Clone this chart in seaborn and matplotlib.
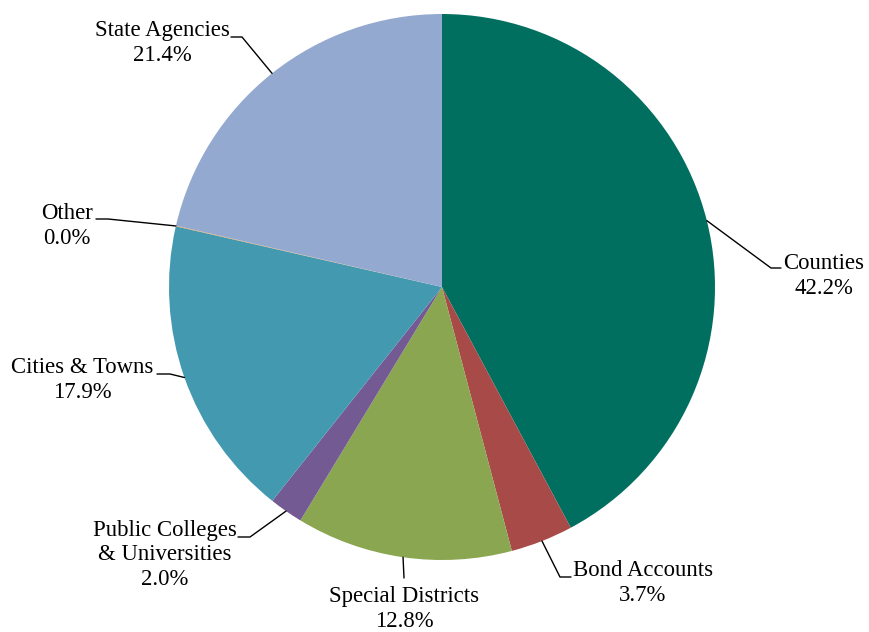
import matplotlib
matplotlib.use("Agg")
import matplotlib.pyplot as plt
import numpy as np
import seaborn as sns

# wedge data, clockwise from 12 o'clock
categories = ["Counties", "Bond Accounts", "Special Districts",
              "Public Colleges\n& Universities", "Cities & Towns", "Other", "State Agencies"]
shares = [42.2, 3.7, 12.8, 2.0, 17.9, 0.04, 21.4]
colors = ["#006F5F", "#A84A47", "#8BA650", "#735A92", "#4399B0", "#E8A050", "#94A9D0"]

sns.set_theme(style="white")
plt.rcParams["font.family"] = ["Liberation Serif", "DejaVu Serif"]

W, H = 870, 632
CX, CY, R = 442, 287, 273

fig = plt.figure(figsize=(W / 100, H / 100), dpi=100)
ax = fig.add_axes([0, 0, 1, 1])
wedges, _ = ax.pie(shares, colors=colors, startangle=90, counterclock=False,
                   radius=1, center=(0, 0), wedgeprops=dict(linewidth=0))
ax.set_xlim(-CX / R, (W - CX) / R)
ax.set_ylim(-(H - CY) / R, CY / R)
ax.set_aspect("equal")
ax.axis("off")


def px(x, y):
    # pixel position (from top-left) -> data coords
    return (x - CX) / R, (CY - y) / R


# label layout in pixels: elbow, line end, text centre
layout = [
    ((771, 268), (781, 268), (824, 276)),
    ((560, 577), (571, 577), (643, 583)),
    ((404, 578), (404, 578), (404, 609)),
    ((250, 537), (238, 537), (165, 555)),
    ((170, 374), (157, 374), (82, 380)),
    ((108, 219), (96, 219), (67, 226)),
    ((242, 37), (231, 37), (162, 43)),
]

for w, name, val, (elb, end, txt) in zip(wedges, categories, shares, layout):
    mid = np.deg2rad((w.theta1 + w.theta2) / 2)
    ax0, ay0 = np.cos(mid), np.sin(mid)
    e1, e2 = px(*elb), px(*end)
    ax.plot([ax0, e1[0], e2[0]], [ay0, e1[1], e2[1]], color="black", lw=1.0,
            solid_joinstyle="miter")
    tx, ty = px(*txt)
    ax.text(tx, ty, f"{name}\n{val:.1f}%", ha="center", va="center",
            multialignment="center", fontsize=16.4, linespacing=1.2, color="black")

fig.savefig("out.png", dpi=100)
